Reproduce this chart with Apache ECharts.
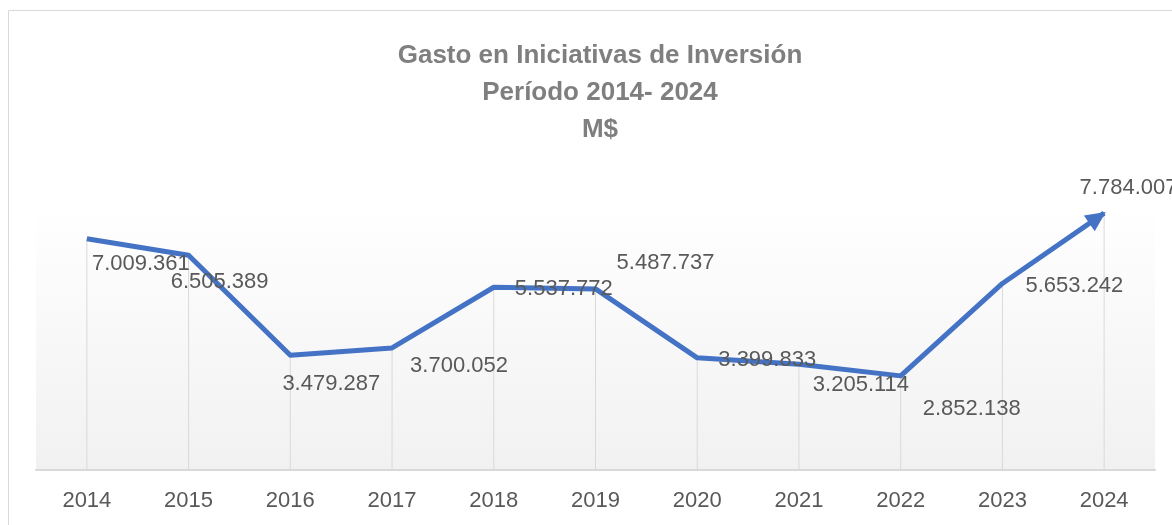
<!DOCTYPE html>
<html>
<head>
<meta charset="utf-8">
<script src="https://cdn.jsdelivr.net/npm/echarts@6/dist/echarts.min.js"></script>
<style>
html,body{margin:0;padding:0;background:#fff;}
#chart{width:1172px;height:525px;}
</style>
</head>
<body>
<div id="chart"></div>
<script>
// datos del gráfico
var years = ['2014','2015','2016','2017','2018','2019','2020','2021','2022','2023','2024'];
var gasto = [7009361, 6505389, 3479287, 3700052, 5537772, 5487737, 3399833, 3205114, 2852138, 5653242, 7784007];

// desplazamiento de cada etiqueta respecto a su punto (px)
var labelOffsets = [[54,25],[31,27],[41,29],[67,18],[70,2],[70,-26],[70,2],[62,21],[71,33],[72,2],[31,-30]];

var fontFam = '"Liberation Sans", Arial, sans-serif';

function fmtMiles(v){
	return String(v).replace(/\B(?=(\d{3})+(?!\d))/g, '.');
}

var chart = echarts.init(document.getElementById('chart'), null, {renderer:'canvas'});

function buildLineData(arrow){
	return gasto.map(function(v, i){
		var item = {
			value: v,
			label: {offset: labelOffsets[i]}
		};
		if (i === gasto.length - 1 && arrow) {
			item.symbol = 'triangle';
			item.symbolSize = [19, 20];
			item.symbolRotate = arrow.rotate;
			item.symbolOffset = arrow.offset;
		}
		return item;
	});
}

var option = {
	animation: false,
	title: {
		text: 'Gasto en Iniciativas de Inversión\nPeríodo 2014- 2024\nM$',
		left: 595,
		top: 32,
		textAlign: 'center',
		textStyle: {
			fontFamily: fontFam,
			fontSize: 26,
			lineHeight: 37,
			fontWeight: 'bold',
			color: '#7f7f7f'
		}
	},
	graphic: [{
		type: 'rect',
		silent: true,
		shape: {x: 8.5, y: 10.5, width: 1300, height: 700},
		style: {fill: 'none', stroke: '#d9d9d9', lineWidth: 1}
	}],
	grid: {
		left: 36,
		right: 17,
		top: 206,
		bottom: 55,
		show: true,
		borderWidth: 0,
		backgroundColor: new echarts.graphic.LinearGradient(0, 0, 0, 1, [
			{offset: 0, color: '#ffffff'},
			{offset: 1, color: '#f1f1f1'}
		])
	},
	xAxis: {
		type: 'category',
		data: years,
		boundaryGap: true,
		axisLine: {lineStyle: {color: '#d9d9d9', width: 2}},
		axisTick: {show: false},
		axisLabel: {
			fontFamily: fontFam,
			fontSize: 22,
			color: '#595959',
			margin: 20
		}
	},
	yAxis: {
		type: 'value',
		min: 0,
		max: 8000000,
		show: false,
		splitLine: {show: false}
	},
	series: [{
		// líneas de proyección hacia el eje
		type: 'bar',
		data: gasto,
		barWidth: 1,
		silent: true,
		itemStyle: {color: '#d9d9d9'},
		z: 1
	}, {
		type: 'line',
		data: buildLineData(null),
		symbol: 'circle',
		symbolSize: 0,
		showSymbol: true,
		silent: true,
		z: 5,
		lineStyle: {color: '#4472c4', width: 5, join: 'round'},
		itemStyle: {color: '#4472c4'},
		label: {
			show: true,
			position: 'inside',
			formatter: function(p){ return fmtMiles(p.value); },
			fontFamily: fontFam,
			fontSize: 22,
			color: '#595959'
		}
	}]
};

chart.setOption(option);

// flecha al final de la línea, orientada según el último tramo
var n = gasto.length;
var pA = chart.convertToPixel({gridIndex: 0}, [years[n-2], gasto[n-2]]);
var pB = chart.convertToPixel({gridIndex: 0}, [years[n-1], gasto[n-1]]);
var dx = pB[0] - pA[0], dy = pB[1] - pA[1];
var len = Math.sqrt(dx*dx + dy*dy);
var ux = dx/len, uy = dy/len;
var rot = Math.atan2(-ux, -uy) * 180 / Math.PI;
chart.setOption({
	series: [{}, {data: buildLineData({rotate: rot, offset: [-ux*8, -uy*8]})}]
});
</script>
</body>
</html>
